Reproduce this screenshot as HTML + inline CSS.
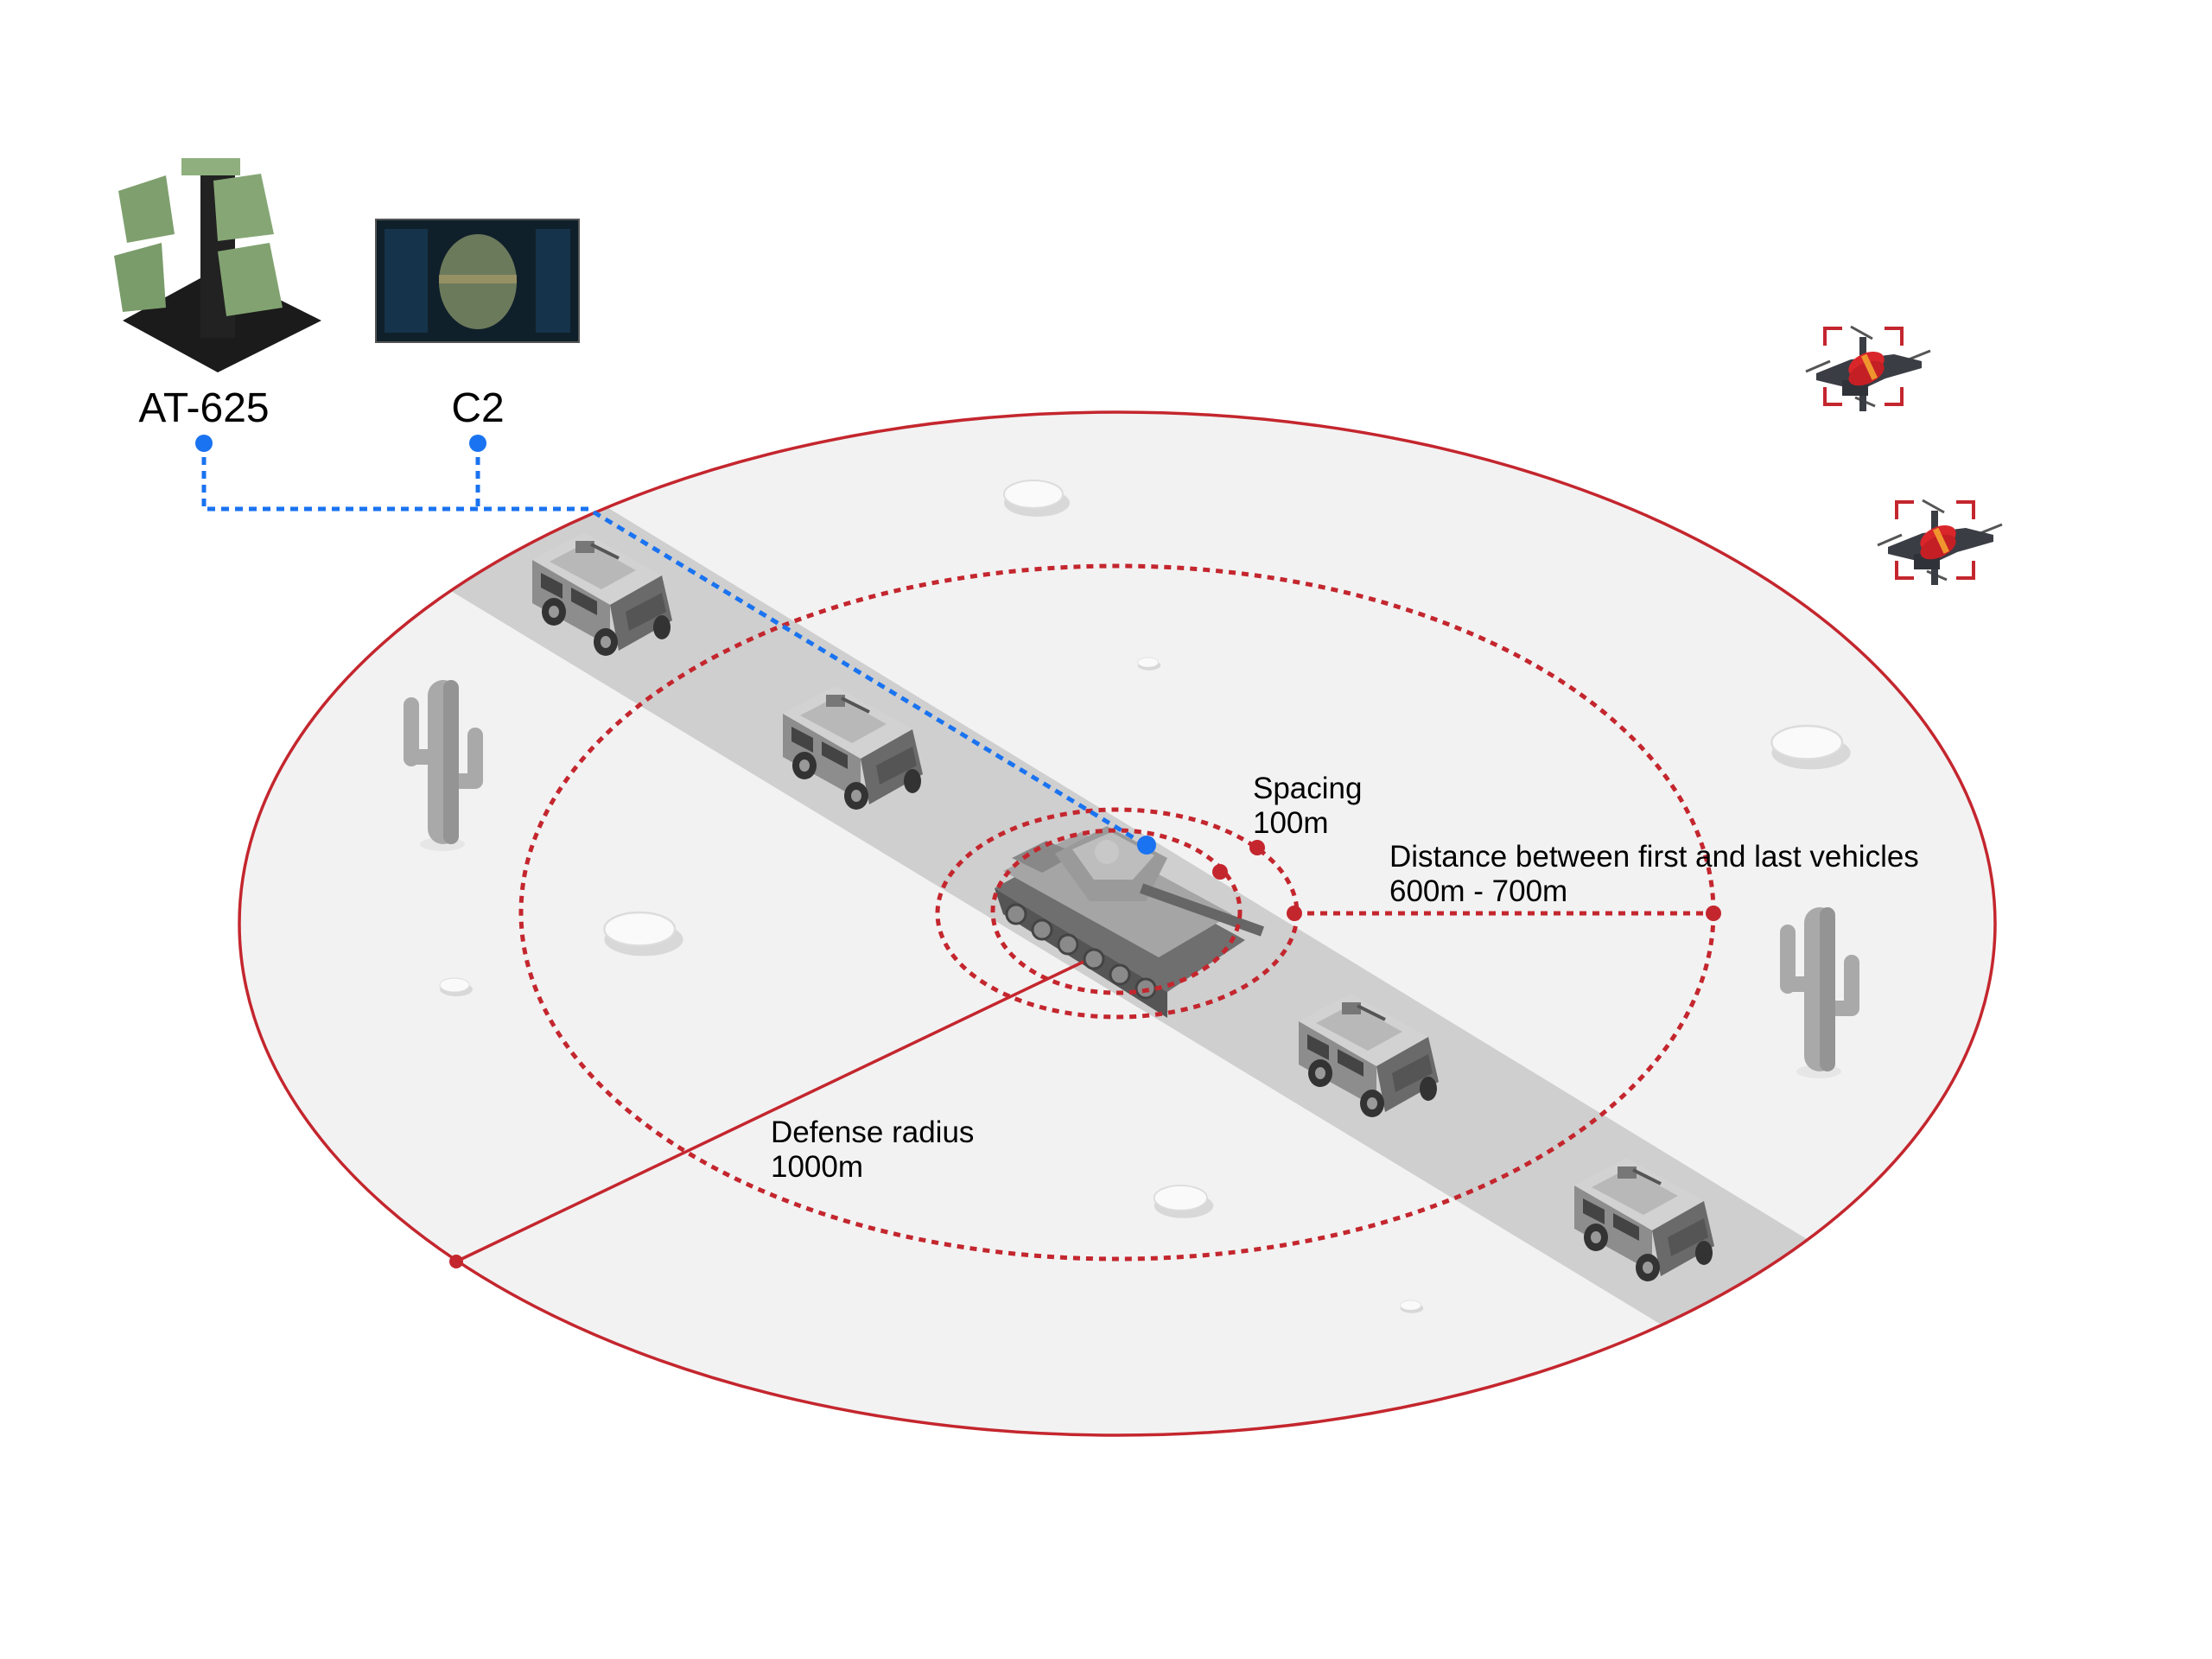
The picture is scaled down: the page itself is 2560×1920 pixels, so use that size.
<!DOCTYPE html>
<html><head><meta charset="utf-8"><style>
html,body{margin:0;padding:0;background:#fff;}
svg{display:block;}
text{font-family:"Liberation Sans",sans-serif;fill:#000;}
</style></head><body>
<svg width="2560" height="1920" viewBox="0 0 2560 1920" xmlns="http://www.w3.org/2000/svg">
<defs>
<clipPath id="ell"><ellipse cx="1293" cy="1069" rx="1016" ry="592"/></clipPath>
<g id="jeep">
 <polygon points="10,40 70,8 160,58 100,92" fill="#d2d2d2"/>
 <polygon points="10,40 100,92 100,140 10,90" fill="#8d8d8d"/>
 <polygon points="100,92 160,58 172,110 110,145" fill="#6a6a6a"/>
 <polygon points="30,42 72,20 130,52 90,74" fill="#b8b8b8"/>
 <polygon points="20,55 45,68 45,85 20,72" fill="#444"/>
 <polygon points="55,72 85,88 85,104 55,88" fill="#444"/>
 <polygon points="118,100 160,78 165,100 122,122" fill="#555"/>
 <rect x="60" y="18" width="22" height="14" fill="#777"/>
 <line x1="78" y1="22" x2="110" y2="38" stroke="#555" stroke-width="4"/>
 <ellipse cx="35" cy="100" rx="14" ry="16" fill="#333"/>
 <ellipse cx="35" cy="100" rx="6" ry="7" fill="#999"/>
 <ellipse cx="95" cy="135" rx="14" ry="16" fill="#333"/>
 <ellipse cx="95" cy="135" rx="6" ry="7" fill="#999"/>
 <ellipse cx="160" cy="118" rx="10" ry="14" fill="#333"/>
</g>
<g id="drone">
 <g fill="none" stroke="#c4262e" stroke-width="4">
  <polyline points="0,20 0,0 20,0"/><polyline points="69,0 89,0 89,20"/>
  <polyline points="0,68 0,88 20,88"/><polyline points="69,88 89,88 89,68"/>
 </g>
 <line x1="-22" y1="50" x2="6" y2="38" stroke="#555" stroke-width="3"/>
 <line x1="92" y1="38" x2="122" y2="26" stroke="#555" stroke-width="3"/>
 <line x1="30" y1="-2" x2="55" y2="12" stroke="#555" stroke-width="3"/>
 <line x1="35" y1="80" x2="58" y2="90" stroke="#555" stroke-width="3"/>
 <polygon points="-10,52 30,36 80,30 112,38 112,46 70,58 40,72 -10,60" fill="#3a3d44"/>
 <rect x="40" y="10" width="8" height="30" fill="#3a3d44"/>
 <rect x="40" y="70" width="8" height="26" fill="#3a3d44"/>
 <rect x="20" y="60" width="30" height="18" fill="#2f3238"/>
 <ellipse cx="48" cy="42" rx="22" ry="13" fill="#d9262b" transform="rotate(-25 48 42)"/>
 <ellipse cx="48" cy="52" rx="22" ry="12" fill="#c41f25" transform="rotate(-25 48 52)"/>
 <rect x="48" y="30" width="7" height="30" fill="#f0952e" transform="rotate(-25 51 45)"/>
</g>
<g id="cactus" fill="#a9a9a9">
 <ellipse cx="45" cy="190" rx="26" ry="8" fill="#e6e6e6"/>
 <rect x="28" y="0" width="36" height="190" rx="18"/>
 <rect x="0" y="20" width="18" height="80" rx="9"/>
 <rect x="0" y="80" width="45" height="18" rx="9"/>
 <rect x="74" y="55" width="18" height="70" rx="9"/>
 <rect x="50" y="108" width="42" height="18" rx="9"/>
 <rect x="46" y="0" width="18" height="190" rx="9" fill="#949494"/>
</g>
<g id="rock">
 <ellipse cx="0" cy="6" rx="38" ry="16" fill="#d8d8d8"/>
 <ellipse cx="-4" cy="-4" rx="34" ry="16" fill="#fafafa" stroke="#dcdcdc" stroke-width="2"/>
</g>
</defs>

<ellipse cx="1293" cy="1069" rx="1016" ry="592" fill="#f2f2f2"/>
<polygon clip-path="url(#ell)" points="560,500 2150,1470 2000,1580 400,610" fill="#cfcfcf"/>
<ellipse cx="1293" cy="1069" rx="1016" ry="592" fill="none" stroke="#c4262e" stroke-width="3.5"/>

<use href="#rock" transform="translate(1200,576)"/>
<use href="#rock" transform="translate(745,1080) scale(1.2)"/>
<use href="#rock" transform="translate(2096,864) scale(1.2)"/>
<use href="#rock" transform="translate(1370,1390) scale(0.9)"/>
<use href="#rock" transform="translate(1330,768) scale(0.35)"/>
<use href="#rock" transform="translate(528,1142) scale(0.5)"/>
<use href="#rock" transform="translate(1634,1512) scale(0.35)"/>

<use href="#cactus" transform="translate(467,787)"/>
<use href="#cactus" transform="translate(2060,1050)"/>

<use href="#jeep" transform="translate(606,608)"/>
<use href="#jeep" transform="translate(896,786)"/>
<use href="#jeep" transform="translate(1493,1142)"/>
<use href="#jeep" transform="translate(1812,1332)"/>

<ellipse cx="1293" cy="1056" rx="690" ry="401" fill="none" stroke="#c4262e" stroke-width="5" stroke-dasharray="8,7"/>

<g transform="translate(1151,948)">
 <polygon points="0,80 90,30 290,140 200,200" fill="#6f6f6f"/>
 <polygon points="0,80 200,200 200,230 10,110" fill="#555"/>
 <polygon points="10,60 100,15 275,110 190,160" fill="#a5a5a5"/>
 <polygon points="20,45 60,25 95,40 55,62" fill="#888"/>
 <polygon points="70,40 130,8 200,45 175,95 110,95" fill="#9a9a9a"/>
 <polygon points="90,35 135,15 185,42 160,70 115,70" fill="#bdbdbd"/>
 <line x1="170" y1="80" x2="310" y2="130" stroke="#666" stroke-width="12"/>
 <circle cx="130" cy="38" r="14" fill="#c8c8c8"/>
 <g fill="#8a8a8a" stroke="#444" stroke-width="3">
  <circle cx="25" cy="110" r="11"/><circle cx="55" cy="128" r="11"/><circle cx="85" cy="145" r="11"/>
  <circle cx="115" cy="162" r="11"/><circle cx="145" cy="180" r="11"/><circle cx="175" cy="196" r="11"/>
 </g>
</g>
<ellipse cx="1293" cy="1057" rx="208" ry="120" fill="none" stroke="#c4262e" stroke-width="5" stroke-dasharray="8,7"/>
<ellipse cx="1292" cy="1055" rx="143" ry="94" fill="none" stroke="#c4262e" stroke-width="5" stroke-dasharray="8,7"/>

<line x1="1498" y1="1057" x2="1983" y2="1057" stroke="#c4262e" stroke-width="5" stroke-dasharray="8,7"/>
<g fill="#c4262e">
 <circle cx="1412" cy="1009" r="9"/><circle cx="1455" cy="981" r="9"/>
 <circle cx="1498" cy="1057" r="9"/><circle cx="1983" cy="1057" r="9"/>
 <circle cx="528" cy="1460" r="8"/>
</g>
<line x1="528" y1="1460" x2="1254" y2="1113" stroke="#c4262e" stroke-width="3.5"/>

<polyline points="236,513 236,589 681,589 1326,978" fill="none" stroke="#1a73f0" stroke-width="5" stroke-dasharray="9,7"/>
<line x1="553" y1="513" x2="553" y2="589" stroke="#1a73f0" stroke-width="5" stroke-dasharray="9,7"/>
<circle cx="236" cy="513" r="10" fill="#1a73f0"/>
<circle cx="553" cy="513" r="10" fill="#1a73f0"/>
<circle cx="1327" cy="978" r="11" fill="#1a73f0"/>

<g transform="translate(132,181)">
 <polygon points="10,190 120,130 240,190 120,250" fill="#1b1b1b"/>
 <rect x="100" y="20" width="40" height="190" fill="#222"/>
 <rect x="78" y="2" width="68" height="20" fill="#8fb07e"/>
 <polygon points="5,40 60,22 70,90 15,100" fill="#7fa06e"/>
 <polygon points="115,28 170,20 185,90 120,98" fill="#86a775"/>
 <polygon points="0,115 55,100 60,175 10,180" fill="#7a9c6a"/>
 <polygon points="120,110 180,100 195,175 130,185" fill="#82a371"/>
</g>
<rect x="435" y="254" width="235" height="142" fill="#10202a" stroke="#555" stroke-width="2"/>
<rect x="445" y="265" width="50" height="120" fill="#15334a"/>
<rect x="620" y="265" width="40" height="120" fill="#15334a"/>
<ellipse cx="553" cy="326" rx="45" ry="55" fill="#6c7a5c"/>
<rect x="508" y="318" width="90" height="10" fill="#a89a6a" opacity="0.7"/>

<use href="#drone" transform="translate(2112,380)"/>
<use href="#drone" transform="translate(2195,581)"/>

<text x="236" y="488" font-size="48" text-anchor="middle">AT-625</text>
<text x="553" y="488" font-size="48" text-anchor="middle">C2</text>
<text font-size="35"><tspan x="1450" y="924">Spacing</tspan><tspan x="1450" y="964">100m</tspan></text>
<text font-size="35"><tspan x="1608" y="1003">Distance between first and last vehicles</tspan><tspan x="1608" y="1043">600m - 700m</tspan></text>
<text font-size="35"><tspan x="892" y="1322">Defense radius</tspan><tspan x="892" y="1362">1000m</tspan></text>
</svg>
</body></html>
